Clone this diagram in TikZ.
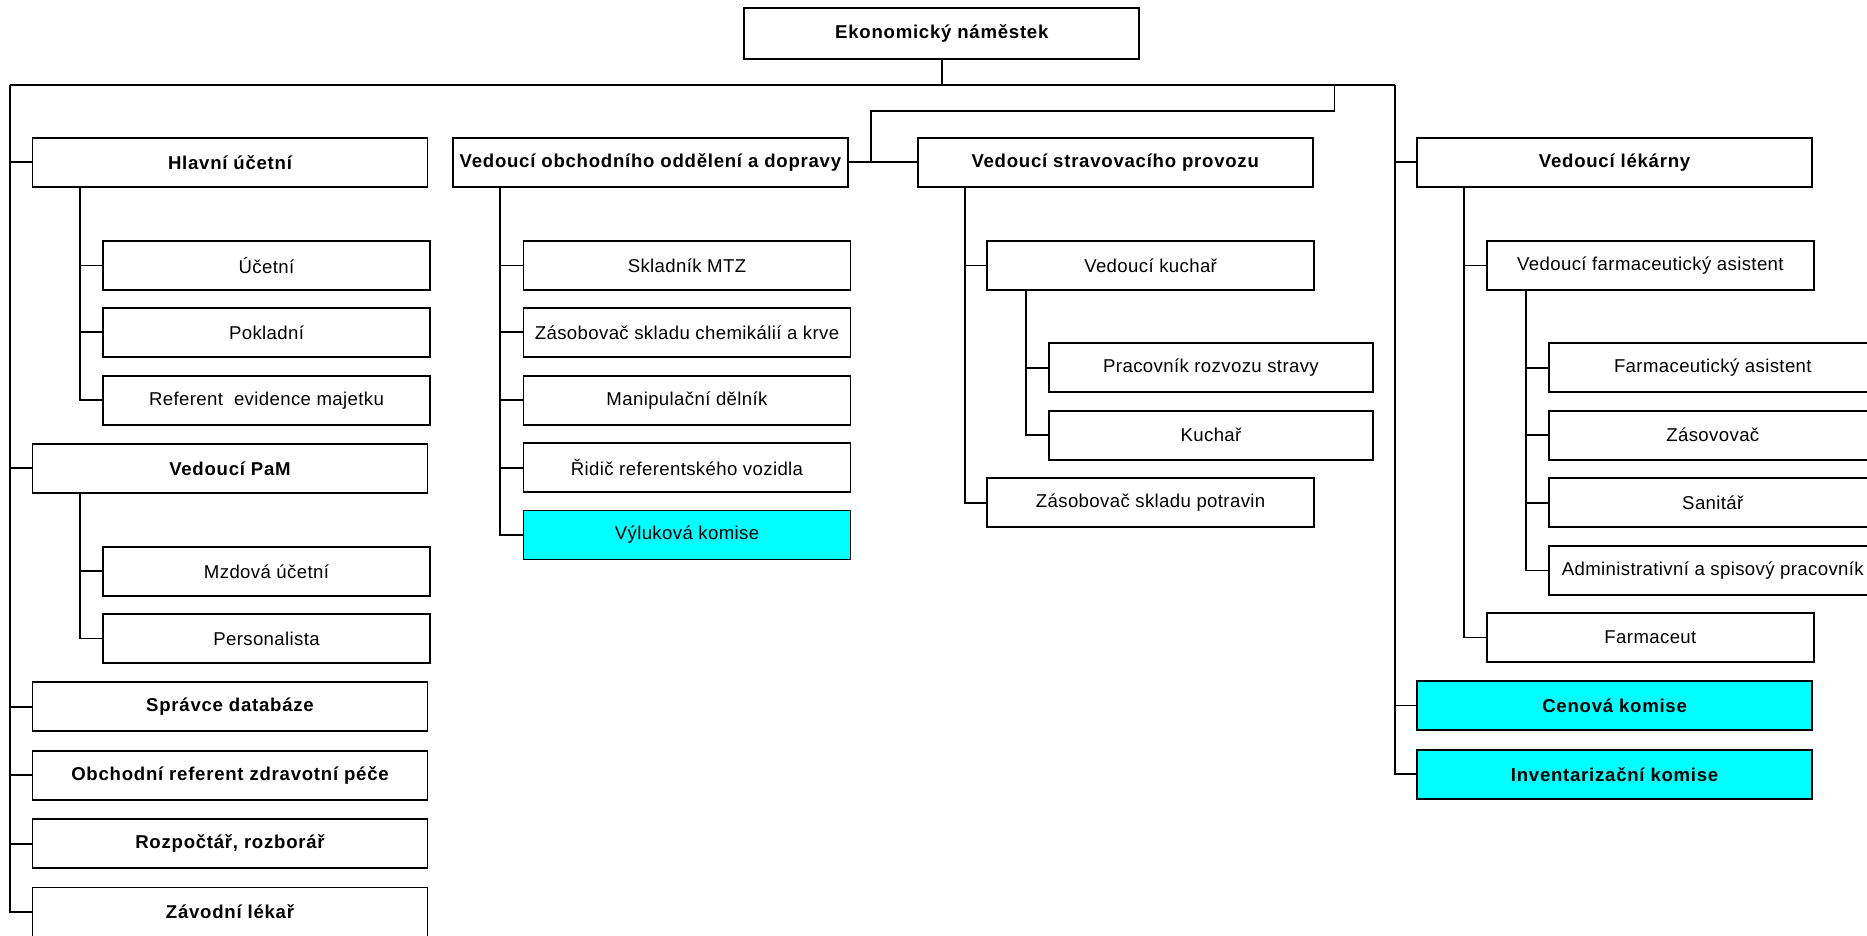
\documentclass[tikz,border=0pt]{standalone}
\usepackage{fontspec}
\setmainfont{Liberation Sans}[LetterSpace=2.0,BoldFeatures={LetterSpace=4.0}]
\usetikzlibrary{calc}
\definecolor{komisecyan}{RGB}{0,255,255}

\tikzset{
  staff/.style={draw,line width=1.8pt,fill=white,minimum height=49pt,minimum width=327pt,
    inner sep=0pt,font=\fontsize{18.6}{22}\selectfont},
  head/.style={staff,minimum width=395pt,font=\fontsize{18.6}{22}\selectfont\bfseries},
  komise/.style={fill=komisecyan},
  link/.style={line width=1.8pt},
}

\begin{document}
\begin{tikzpicture}[x=1pt,y=-1pt]
  \useasboundingbox (0,0) rectangle (1867,935);

  \node[head,minimum height=51pt] (eko) at (941.8,33.5) {Ekonomický náměstek}; %top
  \coordinate (busL) at (10.2,85);
  \coordinate (busR) at (1394.8,85);
  \coordinate (brTop) at (1334.4,85);

  % first column
  \node[head] (hlavni) at (230,162.3) {Hlavní účetní};
  \node[staff] (ucetni) at (266.5,265.5) {Účetní};
  \node[staff] (pokladni) at (266.5,332.3) {Pokladní};
  \node[staff] (referent) at (266.5,400.2) {Referent~ evidence majetku};
  \node[head] (pam) at (230,468.3) {Vedoucí PaM};
  \node[staff] (mzdova) at (266.5,571.3) {Mzdová účetní};
  \node[staff] (personalista) at (266.5,638.5) {Personalista};
  \node[head] (spravce) at (230,706.7) {Správce databáze};
  \node[head] (obchref) at (230,775.2) {Obchodní referent zdravotní péče};
  \node[head] (rozpoctar) at (230,843.8) {Rozpočtář, rozborář};
  \node[head] (zavodni) at (230,912) {Závodní lékař};

  % second column
  \node[head] (obch) at (650.4,162.3) {Vedoucí obchodního oddělení a dopravy};
  \node[staff] (skladnik) at (687,265.5) {Skladník MTZ};
  \node[staff] (zasob) at (687,332.3) {Zásobovač skladu chemikálií a krve};
  \node[staff] (manip) at (687,400.2) {Manipulační dělník};
  \node[staff] (ridic) at (687,467.7) {Řidič referentského vozidla};
  \node[staff,komise] (vyluk) at (687,535) {Výluková komise};

  % third column
  \node[head] (strav) at (1115.2,162.3) {Vedoucí stravovacího provozu};
  \node[staff] (vkuchar) at (1150.6,265.5) {Vedoucí kuchař};
  \node[staff,minimum width=323.5pt] (rozvoz) at (1211,367.7) {Pracovník rozvozu stravy};
  \node[staff,minimum width=323.5pt] (kuchar) at (1211,435.2) {Kuchař};
  \node[staff] (potraviny) at (1150.6,502.8) {Zásobovač skladu potravin};

  % fourth column
  \node[head] (lekarny) at (1614.6,162.3) {Vedoucí lékárny};
  \node[staff] (vfarm) at (1650.4,265.5) {Vedoucí farmaceutický asistent};
  \node[staff] (farmas) at (1712.8,367.8) {Farmaceutický asistent};
  \node[staff] (zasov) at (1712.8,435.2) {Zásovovač};
  \node[staff] (sanitar) at (1712.8,502.8) {Sanitář};
  \node[staff] (admin) at (1712.8,570.5) {Administrativní a spisový pracovník};
  \node[staff] (farmaceut) at (1650.4,637.5) {Farmaceut};
  \node[head,komise] (cenova) at (1614.6,705.5) {Cenová komise};
  \node[head,komise] (invent) at (1614.6,774.3) {Inventarizační komise};

  % main bus
  \draw[link] (eko.south) |- (busL);
  \draw[link] (eko.south) |- (busR);
  \foreach \n in {hlavni,pam,spravce,obchref,rozpoctar,zavodni}
    \draw[link] (busL) |- (\n.west);
  \foreach \n in {lekarny,cenova,invent}
    \draw[link] (busR) |- (\n.west);

  % branch to obchod / stravovani
  \coordinate (brJ) at ($(obch.east)+(22,0)$);
  \draw[link] (obch.east) -- (strav.west);
  \draw[link] (brTop) -- ++(0,26) -| (brJ);

  % sub-buses
  \foreach \n in {ucetni,pokladni,referent}
    \draw[link] ([xshift=48.5pt]hlavni.south west) |- (\n.west);
  \foreach \n in {mzdova,personalista}
    \draw[link] ([xshift=48.5pt]pam.south west) |- (\n.west);
  \foreach \n in {skladnik,zasob,manip,ridic,vyluk}
    \draw[link] ([xshift=48.2pt]obch.south west) |- (\n.west);
  \foreach \n in {vkuchar,potraviny}
    \draw[link] ([xshift=48.1pt]strav.south west) |- (\n.west);
  \foreach \n in {rozvoz,kuchar}
    \draw[link] ([xshift=40pt]vkuchar.south west) |- (\n.west);
  \foreach \n in {vfarm,farmaceut}
    \draw[link] ([xshift=48pt]lekarny.south west) |- (\n.west);
  \foreach \n in {farmas,zasov,sanitar,admin}
    \draw[link] ([xshift=39.6pt]vfarm.south west) |- (\n.west);
\end{tikzpicture}
\end{document}
